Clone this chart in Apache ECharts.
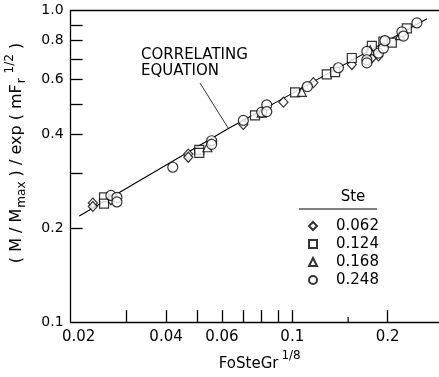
<!DOCTYPE html>
<html><head><meta charset="utf-8">
<script src="https://cdn.jsdelivr.net/npm/echarts@6/dist/echarts.min.js"></script>
<style>html,body{margin:0;padding:0;background:#fff}#c{width:439px;height:377px}</style>
</head><body><div id="c"></div><script>
// ---- data ----
const xTickValues = [0.03,0.04,0.05,0.06,0.07,0.08,0.09,0.1,0.2];
const xMinorTickValues = [0.15];
const xLabelValues = [0.02,0.04,0.06,0.1,0.2];
const xLabelTexts = ['0.02','0.04','0.06','0.1','0.2'];
const yTickValues = [0.2,0.3,0.4,0.5,0.6,0.7,0.8,0.9];
const yLabelValues = [0.1,0.2,0.4,0.6,0.8,1.0];
const yLabelTexts = ['0.1','0.2','0.4','0.6','0.8','1.0'];
const steLabels = ['0.062','0.124','0.168','0.248'];
const ste062 = [[0.0235,0.241],[0.0235,0.235],[0.0268,0.247],[0.0470,0.346],[0.0470,0.338],[0.0701,0.431],[0.0938,0.508],[0.1166,0.587],[0.1541,0.671],[0.1782,0.704],[0.1870,0.715]];
const ste124 = [[0.0255,0.2515],[0.0255,0.240],[0.0509,0.357],[0.0509,0.349],[0.0763,0.461],[0.1021,0.546],[0.1285,0.624],[0.1365,0.634],[0.1541,0.704],[0.1782,0.770],[0.1938,0.794],[0.206,0.789],[0.2298,0.876]];
const ste168 = [[0.0540,0.364],[0.0801,0.470],[0.1072,0.548],[0.1760,0.745],[0.2188,0.834]];
const ste248 = [[0.0268,0.255],[0.0280,0.2515],[0.0280,0.243],[0.0420,0.314],[0.0557,0.382],[0.0557,0.372],[0.0701,0.444],[0.0801,0.472],[0.0831,0.498],[0.0831,0.474],[0.1116,0.570],[0.1398,0.655],[0.1719,0.739],[0.1719,0.695],[0.1719,0.679],[0.1870,0.730],[0.1938,0.757],[0.1960,0.800],[0.2216,0.854],[0.2242,0.828],[0.2472,0.912]];
const correlX = [0.0213,0.0629,0.1,0.266];
const correlY = [0.219,0.418,0.542,0.941];
const xMin = 0.02, xMax = 0.29, yMin = 0.1, yMax = 1.0;

// ---- chart ----
const FONT = 'DejaVu Sans';
const chart = echarts.init(document.getElementById('c'), null, {renderer:'canvas'});
function fmt(vals, texts, firstRich){ return v => { for (let i=0;i<vals.length;i++) if (Math.abs(vals[i]-v) < 1e-6*vals[i]+1e-9) return (i===0 && firstRich) ? '{f|'+texts[i]+'}' : texts[i]; return ''; }; }
const mk = (name, data, symbol, size) => ({
  name, type:'scatter', data, symbol, symbolSize:size,
  itemStyle:{color:'#fff', borderColor:'#000', borderWidth:1.2}, z:3
});
const option = {
  animation:false,
  backgroundColor:'#fff',
  textStyle:{fontFamily:FONT, color:'#000'},
  grid:{left:70.6, top:10.5, width:368.3, height:317, containLabel:false},
  xAxis:[{
    type:'log', logBase:10, min:xMin, max:xMax, position:'bottom',
    axisLine:{show:true, lineStyle:{color:'#000', width:1.3}},
    axisTick:{show:true, inside:true, length:12, customValues:xTickValues, lineStyle:{color:'#000', width:1.3}},
    axisLabel:{show:true, customValues:xLabelValues, formatter:fmt(xLabelValues,xLabelTexts,true), fontSize:15, color:'#000', margin:8, fontFamily:FONT,
      rich:{f:{fontSize:15, fontFamily:FONT, color:'#000', padding:[0,0,0,16]}}},
    splitLine:{show:false}, minorTick:{show:false}, minorSplitLine:{show:false},
    name:'{n|FoSteGr}{s|1/8}', nameLocation:'middle', nameGap:26,
    nameTextStyle:{rich:{
      n:{fontSize:15, fontFamily:FONT, color:'#000', verticalAlign:'bottom', lineHeight:17, padding:[0,0,0,10]},
      s:{fontSize:12, fontFamily:FONT, color:'#000', verticalAlign:'bottom', lineHeight:12, padding:[0,0,10,3]}
    }}
  },{
    type:'log', logBase:10, min:xMin, max:xMax, position:'top',
    axisLine:{show:true, lineStyle:{color:'#000', width:1.3}},
    axisTick:{show:false}, axisLabel:{show:false}, splitLine:{show:false}
  }],
  yAxis:{
    type:'log', logBase:10, min:yMin, max:yMax, position:'left',
    axisLine:{show:true, lineStyle:{color:'#000', width:1.3}},
    axisTick:{show:true, inside:true, length:12, customValues:yTickValues, lineStyle:{color:'#000', width:1.3}},
    axisLabel:{show:true, customValues:yLabelValues, formatter:fmt(yLabelValues,yLabelTexts,false), fontSize:14, color:'#000', margin:7, fontFamily:FONT},
    splitLine:{show:false}, minorTick:{show:false}
  },
  legend:{
    data:steLabels, orient:'vertical', left:303, top:213, itemWidth:8, itemHeight:8, itemGap:2,
    textStyle:{fontSize:15, fontFamily:FONT, color:'#000', lineHeight:16, padding:[0,0,0,14]},
    selectedMode:false
  },
  series:[
    {name:'correlating', type:'line', data:correlX.map((x,i)=>[x,correlY[i]]), showSymbol:false, symbol:'none',
     lineStyle:{color:'#000', width:1.1}, z:2, silent:true},
    mk(steLabels[0], ste062, 'diamond', [9,10]),
    mk(steLabels[1], ste124, 'rect', 9),
    mk(steLabels[2], ste168, 'triangle', 9),
    mk(steLabels[3], ste248, 'circle', 10)
  ]
};
chart.setOption(option);

// annotations (positions from the axes)
const tickTop = chart.convertToPixel({xAxisIndex:0, yAxisIndex:0}, [xMinorTickValues[0], yMin]);
const ptrEnd = chart.convertToPixel({xAxisIndex:0, yAxisIndex:0}, [correlX[1], correlY[1]]);
chart.setOption({graphic:[
  {type:'line', shape:{x1:tickTop[0], y1:tickTop[1], x2:tickTop[0], y2:tickTop[1]-5}, style:{stroke:'#000', lineWidth:1.2}},
  {type:'text', x:141, y:47, style:{text:'CORRELATING\nEQUATION', font:'15px "DejaVu Sans"', fill:'#000', lineHeight:16, textAlign:'left', textVerticalAlign:'top'}},
  {type:'line', shape:{x1:200, y1:83, x2:ptrEnd[0], y2:ptrEnd[1]}, style:{stroke:'#000', lineWidth:0.8}},
  {type:'text', x:353, y:197, style:{text:'Ste', font:'15px "DejaVu Sans"', fill:'#000', textAlign:'center', textVerticalAlign:'middle'}},
  {type:'line', shape:{x1:299, y1:209, x2:377, y2:209}, style:{stroke:'#000', lineWidth:1.2}},
  {type:'text', x:19, y:153, rotation:Math.PI/2, style:{
    text:'{n|( M / M}{b|max}{n| ) / exp ( mF}{b|r}{s| 1/2}{n| )}',
    textAlign:'center', textVerticalAlign:'middle',
    rich:{
      n:{fontSize:16, fontFamily:FONT, fill:'#000', verticalAlign:'bottom', lineHeight:18, padding:[0,0,3,0]},
      b:{fontSize:12, fontFamily:FONT, fill:'#000', verticalAlign:'bottom', lineHeight:13, padding:[0,0,0,1]},
      s:{fontSize:12, fontFamily:FONT, fill:'#000', verticalAlign:'bottom', lineHeight:13, padding:[0,0,12,1]}
    }}}
]});
</script></body></html>
